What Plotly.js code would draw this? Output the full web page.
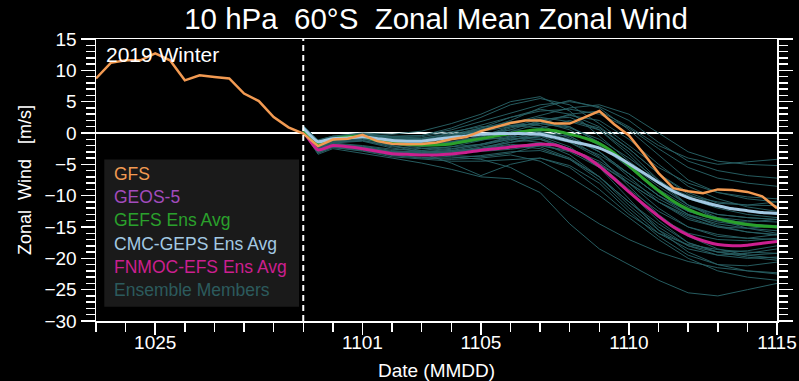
<!DOCTYPE html>
<html>
<head>
<meta charset="utf-8">
<script src="https://cdn.plot.ly/plotly-3.0.1.min.js"></script>
<style>html,body{margin:0;padding:0;background:#000;}#chart{width:799px;height:381px;}</style>
</head>
<body>
<div id="chart"></div>
<script>
// ---------------- DATA ----------------
// GFS: analysis + forecast, every 12 h from 2019-10-23 00Z to 2019-11-15 00Z
const gfsStart = '2019-10-23';
const gfs = [8.7, 11.2, 11.6, 11.6, 12.7, 11.6, 8.4, 9.2, 8.95, 8.7, 6.3, 5.1, 2.55, 0.9,
  -0.1, -2.1, -1.05, -0.9, -0.3, -1.3, -1.7, -1.8, -1.75, -1.5, -1.0, -0.65, 0.3, 1.0, 1.6, 2.0,
  2.0, 1.5, 1.5, 2.5, 3.5, 1.4, -0.4, -3.3, -6.4, -8.8, -9.3, -9.6, -9.0, -9.1, -9.4, -10.1, -12.0];

// Ensemble averages, every 12 h from 2019-10-30 00Z to 2019-11-15 00Z
const fcstStart = '2019-10-30';
const gefsAvg = [0.5, -1.8, -1.0, -0.6, -0.5, -1.2, -1.6, -1.8, -1.9, -1.9, -1.75, -1.3, -0.9, -0.5, -0.1, 0.3,
  0.5, 0.35, -0.2, -0.8, -1.7, -3.2, -5.2, -7.3, -9.2, -10.9, -12.2, -13.1, -13.7, -14.2, -14.6, -14.85, -15.0];
const cmcAvg = [0.8, -1.4, -0.9, -0.8, -0.6, -0.9, -1.2, -1.3, -1.3, -1.0, -0.7, -0.5, -0.2, -0.1, -0.1, -0.1,
  -0.2, -0.7, -1.3, -1.8, -2.4, -3.5, -4.9, -6.4, -7.9, -9.3, -10.3, -11.0, -11.6, -12.1, -12.4, -12.7, -12.85];
const fnmocAvg = [0.3, -2.7, -2.0, -2.2, -2.5, -2.9, -3.3, -3.4, -3.5, -3.5, -3.35, -3.1, -2.75, -2.5, -2.25, -2.0,
  -1.8, -1.9, -2.7, -3.7, -5.3, -7.3, -9.4, -11.4, -13.3, -15.0, -16.3, -17.2, -17.8, -18.0, -17.9, -17.6, -17.3];

// Ensemble member times
const memberTimes = ['2019-10-30 00:00', '2019-10-30 12:00', '2019-10-31', '2019-11-01', '2019-11-02', '2019-11-03',
  '2019-11-04', '2019-11-05', '2019-11-06', '2019-11-07', '2019-11-08', '2019-11-09', '2019-11-10', '2019-11-11',
  '2019-11-12', '2019-11-13', '2019-11-14', '2019-11-15'];

const gefsMembers = [
  [1.0, -1.5, -0.8, -0.2, -1.0, -1.2, -0.5, 0.8, 2.5, 3.8, 3.0, 1.0, -2.5, -6.5, -9.8, -11.5, -12.5, -13.0],
  [0.6, -2.2, -1.2, -0.8, -2.0, -2.8, -3.2, -2.5, -1.5, -1.0, -2.5, -5.0, -9.0, -12.5, -15.0, -16.2, -16.8, -17.0],
  [0.8, -1.8, -0.9, -0.4, -1.2, -1.5, -1.0, 0.2, 1.5, 2.5, 1.8, 0.5, -3.0, -7.5, -11.5, -13.8, -15.2, -16.0],
  [0.4, -2.5, -1.5, -1.2, -2.2, -2.5, -2.2, -1.8, -0.8, 0.2, -1.0, -3.8, -8.5, -13.0, -16.5, -18.5, -19.5, -20.0],
  [0.7, -1.9, -1.0, -0.5, -1.5, -1.4, -0.8, 0.5, 2.0, 4.0, 5.2, 4.0, 0.5, -3.5, -7.5, -9.5, -10.5, -11.0],
  [0.5, -2.3, -1.3, -0.9, -1.8, -2.2, -2.5, -1.8, -1.0, -0.5, -2.2, -5.5, -10.5, -15.5, -19.0, -21.0, -22.0, -22.5],
  [0.9, -1.6, -0.7, -0.3, -1.1, -1.6, -1.4, -0.6, 0.8, 1.8, 0.5, -2.0, -5.5, -9.0, -11.8, -13.0, -13.5, -13.8],
  [0.3, -2.8, -1.6, -1.3, -2.4, -3.0, -3.6, -3.8, -3.2, -2.0, -2.8, -4.8, -8.0, -11.0, -13.2, -14.5, -15.2, -15.6],
  [0.8, -1.7, -0.8, -0.3, -0.9, -1.0, -0.6, 0.5, 1.5, 1.2, -0.5, -3.0, -6.5, -10.0, -13.0, -14.8, -15.8, -16.3],
  [0.6, -2.0, -1.1, -0.7, -1.4, -1.8, -1.5, -0.7, 0.5, 2.0, 2.8, 2.0, -1.0, -5.0, -8.5, -10.5, -11.8, -12.5],
  [0.6, -2.4, -1.4, -1.2, -2.0, -3.2, -4.8, -6.8, -5.0, -4.0, -5.5, -9.0, -13.0, -16.0, -17.8, -18.6, -19.0, -19.2],
  [0.9, -1.6, -0.6, -0.1, -0.6, -0.4, 0.8, 2.5, 4.5, 5.5, 4.5, 1.5, -2.0, -5.5, -8.0, -9.5, -10.2, -10.5]
];
const cmcMembers = [
  [1.2, -1.2, -0.6, -0.2, -0.5, -0.4, 0.5, 1.8, 3.2, 4.5, 5.0, 4.2, 2.0, -1.5, -4.5, -6.0, -6.8, -7.2],
  [0.9, -1.6, -0.8, -0.5, -1.0, -1.2, -0.5, 0.3, 1.0, 1.5, 0.8, -1.0, -4.0, -7.5, -10.5, -12.0, -13.0, -13.5],
  [0.7, -1.9, -1.0, -0.7, -1.5, -1.8, -1.5, -1.0, -0.8, -1.0, -2.8, -5.0, -8.0, -11.0, -13.5, -15.0, -15.8, -16.2],
  [1.0, -1.3, -0.7, -0.4, -0.8, -0.9, 0.0, 1.2, 2.5, 3.5, 3.8, 3.0, 0.8, -2.5, -5.5, -7.2, -8.0, -8.5],
  [0.6, -2.1, -1.2, -0.9, -1.6, -2.0, -1.8, -1.2, -0.5, -0.8, -2.5, -4.5, -7.5, -10.5, -13.0, -14.2, -14.8, -15.0],
  [1.1, -1.1, -0.5, -0.1, -0.6, -0.8, -0.2, 0.8, 1.8, 2.2, 1.0, -1.5, -5.0, -8.5, -11.5, -13.0, -13.5, -13.8],
  [0.8, -1.8, -1.1, -0.8, -1.4, -1.5, -0.9, -0.2, 0.5, 0.2, -1.5, -3.5, -6.5, -10.0, -12.5, -13.5, -14.0, -14.2],
  [0.9, -1.5, -0.9, -0.6, -1.0, -1.0, -0.3, 0.6, 1.5, 2.8, 4.0, 4.5, 3.0, 0.0, -3.0, -4.5, -5.0, -5.2],
  [0.5, -2.4, -1.3, -1.0, -1.8, -2.4, -2.8, -2.5, -2.0, -2.5, -4.2, -7.0, -11.0, -14.5, -17.5, -19.0, -19.8, -20.3],
  [1.0, -1.4, -0.8, -0.4, -1.0, -1.1, -0.4, 0.5, 1.2, 0.8, -0.8, -3.0, -6.5, -10.0, -12.5, -13.8, -14.5, -14.8],
  [1.1, -1.2, -0.5, 0.0, -0.2, 0.3, 1.5, 3.0, 5.0, 5.8, 3.5, -0.5, -4.5, -8.0, -10.0, -11.0, -11.5, -11.6],
  [0.7, -1.7, -1.0, -0.6, -1.2, -1.6, -1.4, -0.5, 1.0, 2.2, 2.5, 0.5, -3.5, -8.0, -11.5, -13.5, -14.5, -15.0],
  [1.0, -1.3, -0.6, -0.3, -0.7, -0.6, 0.2, 1.0, 1.2, 1.5, 3.0, 3.5, 1.0, -2.0, -4.0, -5.0, -4.6, -4.2]
];
const fnmocMembers = [
  [0.5, -2.6, -1.6, -2.0, -2.6, -2.8, -2.2, -1.2, 0.2, 1.5, 1.0, -1.5, -5.5, -9.5, -12.5, -14.0, -14.2, -13.8],
  [0.2, -3.2, -2.3, -2.9, -3.8, -4.2, -4.5, -4.5, -4.2, -4.0, -5.2, -8.0, -12.5, -16.5, -19.5, -21.0, -21.2, -20.6],
  [0.4, -2.8, -1.8, -2.2, -3.0, -3.2, -3.0, -2.3, -1.5, -0.5, -1.5, -4.0, -8.0, -12.0, -15.0, -16.5, -16.8, -16.2],
  [0.1, -3.4, -2.5, -3.2, -4.0, -4.8, -5.8, -7.0, -7.3, -9.5, -14.5, -18.5, -21.0, -23.5, -25.5, -26.0, -25.0, -24.0],
  [0.4, -2.7, -1.9, -2.3, -3.0, -3.0, -2.6, -1.8, -0.6, 0.8, 2.0, 0.8, -2.5, -6.5, -9.5, -11.2, -11.5, -11.0],
  [0.3, -3.0, -2.1, -2.6, -3.5, -3.9, -4.0, -3.6, -3.0, -2.8, -4.2, -7.5, -12.0, -16.0, -18.5, -19.5, -19.2, -18.5],
  [0.2, -3.1, -2.2, -2.7, -3.4, -3.6, -3.2, -2.8, -2.2, -1.5, -2.5, -5.5, -9.5, -13.5, -16.0, -17.0, -17.2, -16.8],
  [0.5, -2.6, -1.7, -2.1, -2.8, -3.1, -3.0, -2.5, -1.8, -2.2, -4.0, -7.0, -11.0, -15.0, -18.0, -19.5, -20.0, -19.8],
  [0.3, -2.9, -2.0, -2.5, -3.2, -3.4, -3.3, -3.0, -2.6, -2.0, -3.0, -5.5, -9.5, -14.0, -17.5, -19.0, -19.5, -19.2],
  [0.4, -2.7, -1.8, -2.3, -3.1, -3.3, -3.0, -2.5, -1.2, 0.0, -0.5, -3.0, -7.0, -11.0, -13.8, -15.0, -15.2, -14.8],
  [0.3, -3.0, -2.0, -2.4, -3.0, -3.5, -3.8, -4.2, -5.5, -8.0, -11.5, -14.5, -17.0, -19.0, -20.5, -21.5, -22.0, -22.3],
  [0.4, -2.8, -1.9, -2.3, -3.0, -3.1, -2.8, -2.0, -1.0, -1.5, -3.5, -7.0, -11.5, -15.5, -18.0, -19.0, -18.8, -18.0],
  [0.2, -3.2, -2.3, -2.8, -3.6, -4.0, -4.2, -4.0, -3.5, -4.5, -7.0, -10.0, -13.5, -17.0, -20.0, -22.0, -23.0, -23.5]
];

const tickDates = ['2019-10-25', '2019-11-01', '2019-11-05', '2019-11-10', '2019-11-15'];
const tickLabels = ['1025', '1101', '1105', '1110', '1115'];
const initDate = '2019-10-30';
const legendNames = ['GFS', 'GEOS-5', 'GEFS Ens Avg', 'CMC-GEPS Ens Avg', 'FNMOC-EFS Ens Avg', 'Ensemble Members'];
const legendColors = ['#f29a52', '#a24bbd', '#2aa12c', '#a3c9e3', '#cc1f8f', '#2c5a5d'];

// ---------------- BUILD ----------------
function times12h(start, n) {
  const t0 = new Date(start + 'T00:00:00Z').getTime();
  const out = [];
  for (let i = 0; i < n; i++) {
    const d = new Date(t0 + i * 43200000);
    out.push(d.toISOString().slice(0, 16).replace('T', ' '));
  }
  return out;
}

const traces = [];
const memberColor = 'rgba(40,96,100,0.95)';
[gefsMembers, cmcMembers, fnmocMembers].forEach(group => {
  group.forEach(m => {
    traces.push({x: memberTimes, y: m, type: 'scatter', mode: 'lines',
      line: {color: memberColor, width: 1}, hoverinfo: 'skip', showlegend: false});
  });
});
const fx = times12h(fcstStart, gefsAvg.length);
traces.push({x: fx, y: fnmocAvg, type: 'scatter', mode: 'lines', line: {color: legendColors[4], width: 3, shape: 'spline', smoothing: 0.5}, showlegend: false, hoverinfo: 'skip'});
traces.push({x: fx, y: gefsAvg, type: 'scatter', mode: 'lines', line: {color: legendColors[2], width: 3, shape: 'spline', smoothing: 0.5}, showlegend: false, hoverinfo: 'skip'});
traces.push({x: fx, y: cmcAvg, type: 'scatter', mode: 'lines', line: {color: legendColors[3], width: 3, shape: 'spline', smoothing: 0.5}, showlegend: false, hoverinfo: 'skip'});
traces.push({x: times12h(gfsStart, gfs.length), y: gfs, type: 'scatter', mode: 'lines', line: {color: legendColors[0], width: 2.5}, showlegend: false, hoverinfo: 'skip'});

const L = 96, R = 777, T = 38.5, B = 321;
const pw = R - L, ph = B - T;
const px = x => (x - L) / pw;
const py = y => (B - y) / ph;

const annotations = [{
  text: '2019 Winter', xref: 'paper', yref: 'paper', x: px(104), y: py(54),
  xanchor: 'left', yanchor: 'middle', showarrow: false, font: {size: 21, color: '#fff'}
}];
const legendY = [173.5, 197, 220.3, 243.6, 267, 290.3];
legendNames.forEach((n, i) => {
  annotations.push({text: n, xref: 'paper', yref: 'paper', x: px(112), y: py(legendY[i]),
    xanchor: 'left', yanchor: 'middle', showarrow: false, font: {size: 17.5, color: legendColors[i]}});
});

const layout = {
  width: 799, height: 381,
  paper_bgcolor: '#000', plot_bgcolor: '#000',
  margin: {l: L, r: 799 - R, t: T, b: 381 - B, pad: 0},
  font: {family: 'Liberation Sans, Arial, sans-serif', color: '#fff'},
  showlegend: false,
  title: {text: '10 hPa\u00a0\u00a060\u00b0S\u00a0\u00a0Zonal Mean Zonal Wind', font: {size: 29.5, color: '#fff'},
    x: 436 / 799, xanchor: 'center', xref: 'container', y: 1 - 19 / 381, yanchor: 'middle', yref: 'container'},
  xaxis: {
    type: 'date', range: ['2019-10-23', '2019-11-15'],
    tickmode: 'array', tickvals: tickDates, ticktext: tickLabels,
    ticks: 'outside', ticklen: 12, tickwidth: 1.5, tickcolor: '#fff',
    ticklabelstandoff: -8,
    showline: true, linecolor: '#fff', linewidth: 1.5, mirror: true,
    showgrid: false, zeroline: false,
    tickfont: {size: 19, color: '#fff'},
    title: {text: 'Date (MMDD)', font: {size: 19, color: '#fff'}, standoff: 14},
    minor: {dtick: 86400000, tick0: '2019-10-23', ticks: 'outside', ticklen: 9, tickwidth: 1.5, tickcolor: '#fff', showgrid: false}
  },
  yaxis: {
    range: [-30, 15], tickmode: 'linear', tick0: -30, dtick: 5,
    ticks: 'outside', ticklen: 14, tickwidth: 1.5, tickcolor: '#fff',
    showline: true, linecolor: '#fff', linewidth: 1.5, mirror: 'allticks',
    showgrid: false, zeroline: true, zerolinecolor: '#fff', zerolinewidth: 1.5,
    tickfont: {size: 19, color: '#fff'},
    title: {text: 'Zonal\u00a0\u00a0Wind\u00a0\u00a0\u00a0[m/s]', font: {size: 18, color: '#fff'}, standoff: 8},
    minor: {dtick: 1, tick0: -30, ticks: 'outside', ticklen: 9, tickwidth: 1.5, tickcolor: '#fff', showgrid: false}
  },
  shapes: [
    {type: 'rect', xref: 'paper', yref: 'paper', x0: px(104.3), x1: px(299), y0: py(306.7), y1: py(159.3),
      fillcolor: '#1a1a1a', line: {width: 0}, layer: 'below'},
    {type: 'line', xref: 'x', yref: 'paper', x0: initDate, x1: initDate, y0: 0, y1: 1,
      line: {color: '#fff', width: 2, dash: '6px,4px'}, layer: 'above'}
  ],
  annotations: annotations
};

Plotly.newPlot('chart', traces, layout, {staticPlot: true, displayModeBar: false});
</script>
</body>
</html>
